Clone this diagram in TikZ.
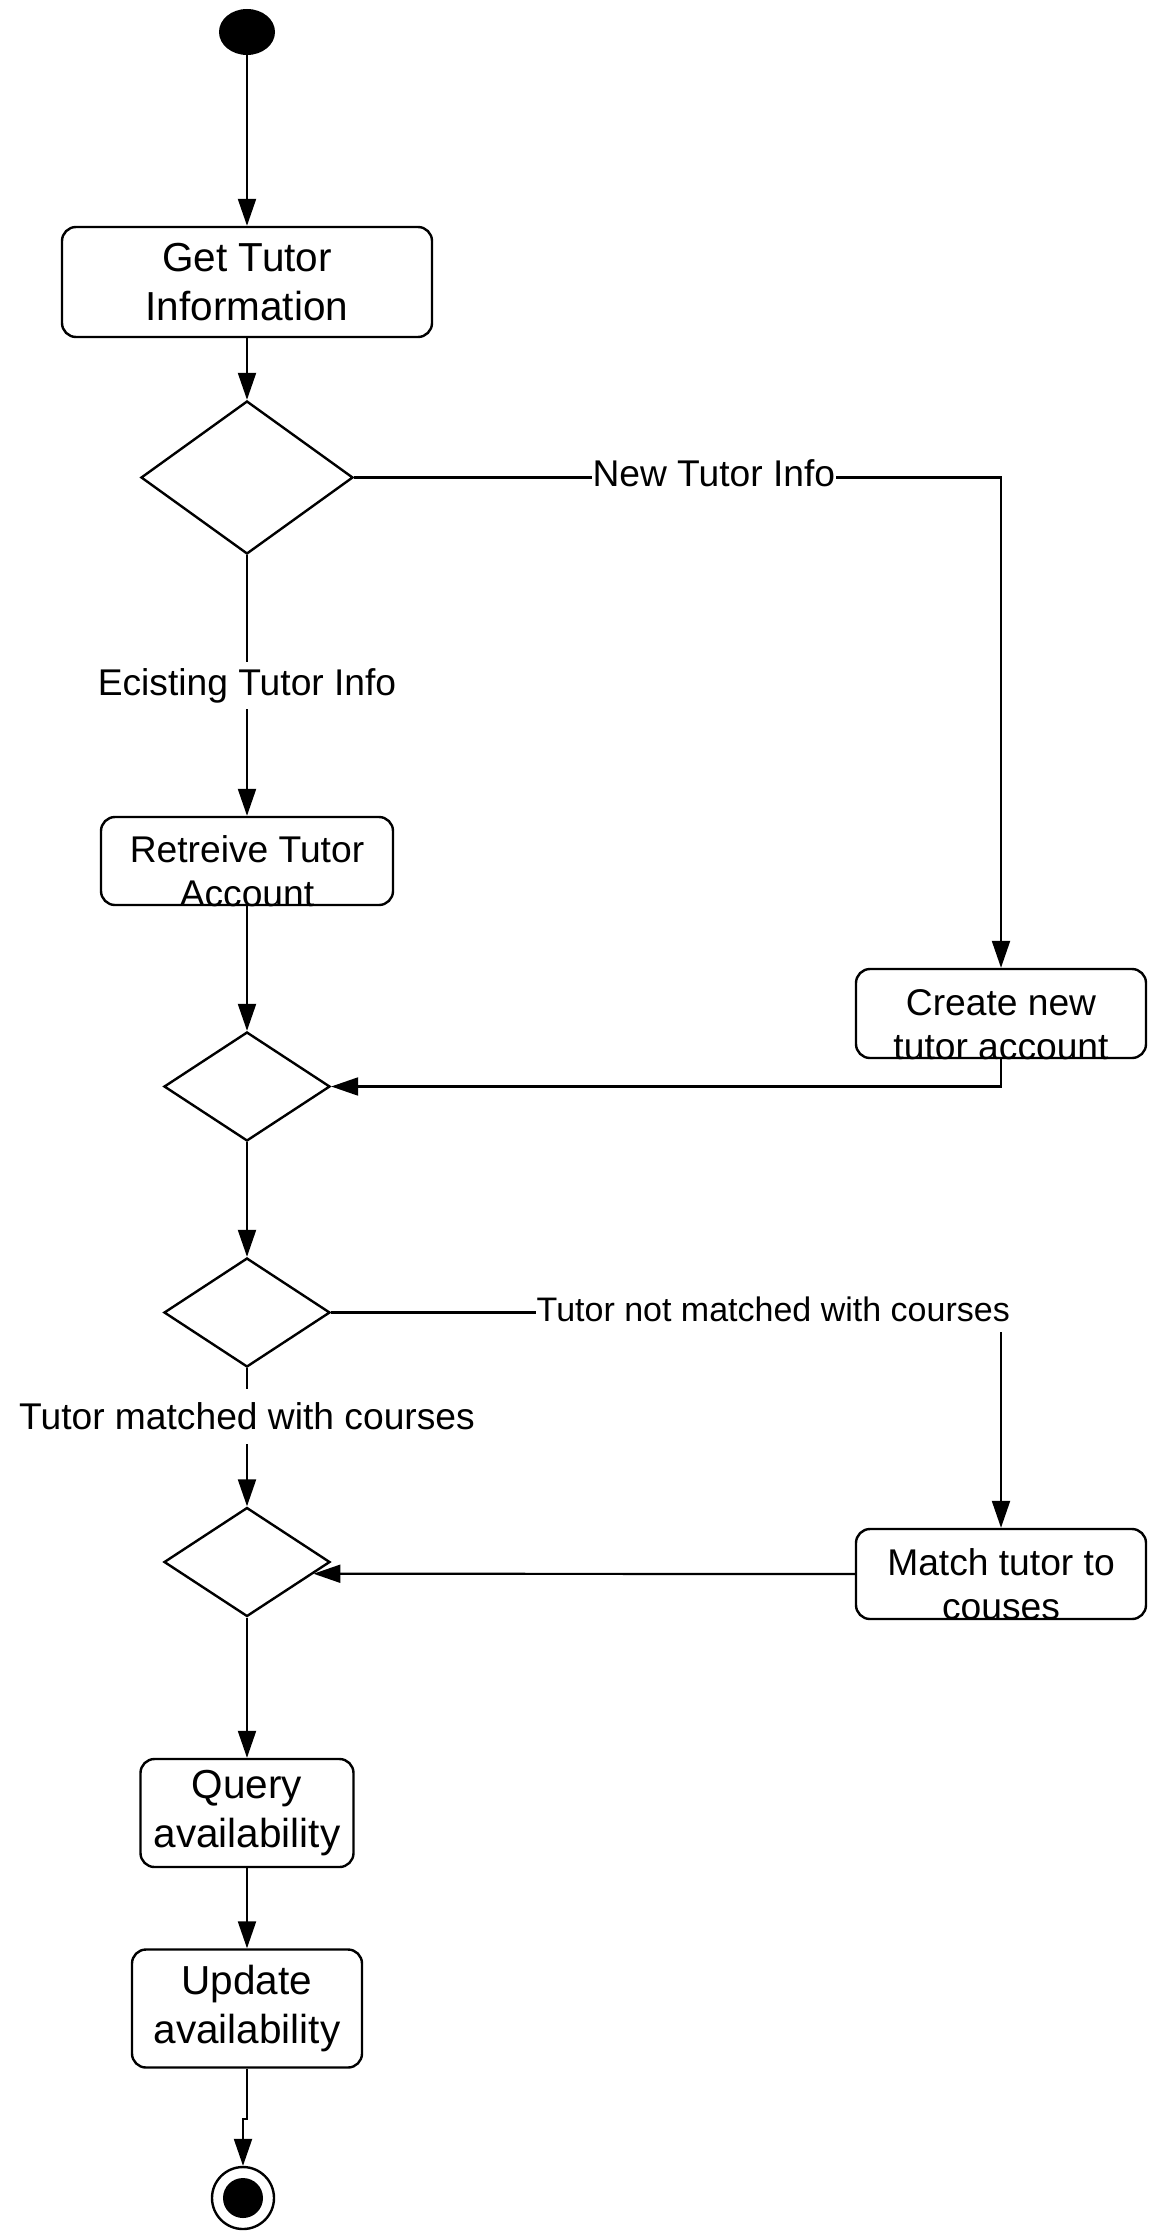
\documentclass[tikz,border=0pt]{standalone}
\usepackage{fontspec}
\setmainfont{Liberation Sans}
\usepackage{tikz}
\usetikzlibrary{shapes.geometric,arrows.meta}

\begin{document}
\begin{tikzpicture}[x=5pt,y=5pt,
  act/.style={draw, rounded corners=7pt, line width=1.2pt, align=center, font=\fontsize{20.25}{24.3}\selectfont},
  actsm/.style={act, font=\fontsize{18.6}{22.3}\selectfont},
  acttxt/.style={align=center, font=\fontsize{18.6}{22.3}\selectfont},
  choice/.style={draw, diamond, line width=1.2pt, minimum width=83pt, minimum height=54.5pt},
  flow/.style={line width=1.1pt, -{Triangle[length=13.5pt,width=9pt]}},
  guard/.style={fill=white, inner xsep=0.5pt, inner ysep=4pt, font=\fontsize{18.6}{22.3}\selectfont}]
\tikzstyle{every node}+=[inner sep=0pt]
\useasboundingbox (0,0) rectangle (115.2,-223.6);
\node [ellipse, fill=black, minimum width=28pt, minimum height=23pt] (start) at (24.7,-3.2) {};
\node [act, minimum width=185pt, minimum height=55pt] (gettutor) at (24.7,-28.2) {Get Tutor\\Information};
\node [choice, minimum width=106pt, minimum height=76.5pt] (dec1) at (24.7,-47.75) {};
\node [actsm, minimum width=146pt, minimum height=44pt,
  label={[acttxt, yshift=-5pt]center:{Retreive Tutor\\Account}}] (retreive) at (24.7,-86.1) {};
\node [actsm, minimum width=145pt, minimum height=44.5pt,
  label={[acttxt, yshift=-5.5pt]center:{Create new\\tutor account}}] (create) at (100.1,-101.35) {};
\node [choice] (dec2) at (24.7,-108.65) {};
\node [choice] (dec3) at (24.7,-131.25) {};
\node [choice] (dec4) at (24.7,-156.2) {};
\node [actsm, minimum width=145pt, minimum height=45pt,
  label={[acttxt, yshift=-5pt]center:{Match tutor to\\couses}}] (match) at (100.1,-157.4) {};
\node [act, minimum width=106.5pt, minimum height=54pt] (query) at (24.7,-181.3) {Query\\availability};
\node [act, minimum width=115pt, minimum height=59pt] (update) at (24.7,-200.85) {Update\\availability};
\node [circle, draw, line width=1.2pt, minimum size=31pt,
  path picture={\fill (path picture bounding box.center) circle (10pt);}] (final) at (24.3,-219.8) {};
\coordinate (bend) at (24.7,-211.9);
\draw [flow] (start) -- (gettutor);
\draw [flow] (gettutor) -- (dec1);
\draw [flow] (dec1.east) -| node [guard, pos=0.278, yshift=2pt] {New Tutor Info} (create.north);
\draw [flow] (dec1.south) -- node [guard, inner ysep=3pt] {Ecisting Tutor Info} (retreive.north);
\draw [flow] (retreive.south) -- (dec2.north);
\draw [flow] (create.south) |- (dec2.east);
\draw [flow] (dec2.south) -- (dec3.north);
\draw [flow] (dec3.east) -| node [guard, pos=0.33, yshift=1.5pt, inner ysep=5pt, font=\fontsize{17}{20.4}\selectfont] {Tutor not matched with courses} (match.north);
\draw [flow] (dec3.south) -- node [guard, pos=0.35, inner ysep=7pt] {Tutor matched with courses} (dec4.north);
\draw [flow] (match.west) -- (dec4.-10.5);
\draw [flow] (dec4.south) -- (query.north);
\draw [flow] (query.south) -- (update.north);
\draw [flow] (update.south) -- (bend) -| (final.north);
\end{tikzpicture}
\end{document}
